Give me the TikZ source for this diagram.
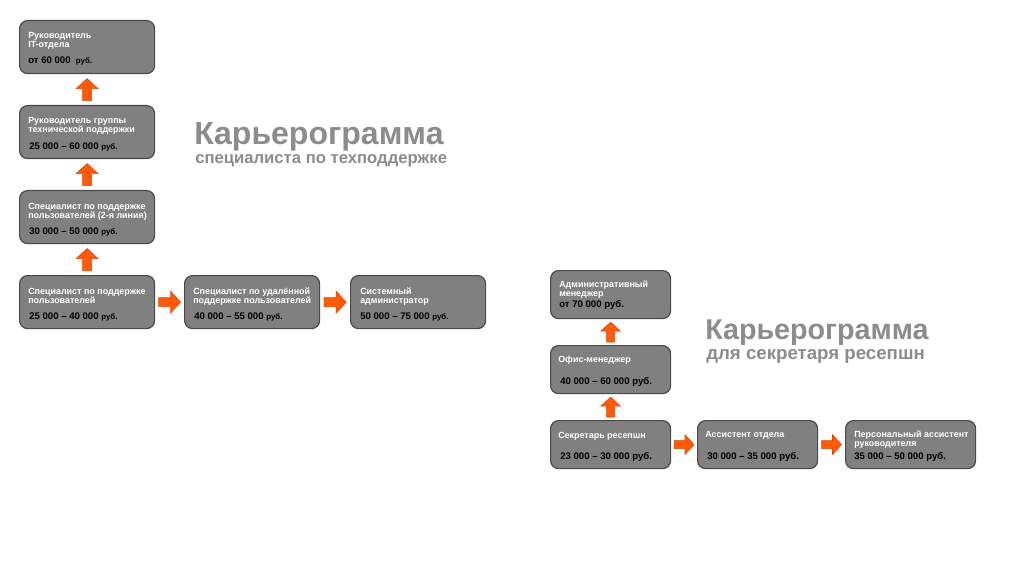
\documentclass[tikz,border=0pt]{standalone}
\usepackage{fontspec}
\setmainfont{Liberation Sans}
\usetikzlibrary{calc}
\definecolor{boxgray}{HTML}{808080}
\definecolor{boxline}{HTML}{4A4A4A}
\definecolor{arrfill}{HTML}{FF5A0A}
\definecolor{arrline}{HTML}{E04400}
\definecolor{titlegray}{HTML}{8C8C8C}
\tikzset{
  cbox/.style={draw=boxline, fill=boxgray, line width=0.9pt, rounded corners=6pt, anchor=north west, inner sep=0pt},
  lbox/.style={cbox, minimum width=101.25pt, minimum height=39.75pt},
  rbox/.style={cbox, minimum width=90pt, minimum height=36pt},
  jobtxt/.style={anchor=north west, inner sep=0pt, align=left, text=white, font=\bfseries\fontsize{6.7}{6.8}\selectfont},
  paytxt/.style={anchor=west, inner sep=0pt, text=black, font=\bfseries\fontsize{7.2}{9}\selectfont},
  arr/.style={fill=arrfill, draw=arrline, line width=0.4pt, line join=miter},
  uparr/.pic={\path[arr] (-4.5,11) -- (4.5,11) -- (4.5,-1) -- (11,-1) -- (0,-11) -- (-11,-1) -- (-4.5,-1) -- cycle;},
  rtarr/.pic={\path[arr] (-11,-4.5) -- (-11,4.5) -- (1,4.5) -- (1,11) -- (11,0) -- (1,-11) -- (1,-4.5) -- cycle;},
  bigtitle/.style={anchor=base west, inner sep=0pt, text=titlegray, font=\bfseries\fontsize{24}{28}\selectfont},
  subtitle/.style={anchor=base west, inner sep=0pt, text=titlegray, font=\bfseries\fontsize{12.5}{14}\selectfont}
}
\newcommand{\rub}{{\fontsize{5.9}{7}\selectfont руб.}}
\begin{document}
\begin{tikzpicture}[x=0.75pt, y=-0.75pt]
\useasboundingbox[fill=white] (0,0) rectangle (1024,574);

% left column
\node[lbox] (a) at (19,20) {};
\node[lbox] (b) at (19,105) {};
\node[lbox] (c) at (19,190) {};
\node[lbox] (d) at (19,275) {};
\node[lbox] (e) at (184,275) {};
\node[lbox] (f) at (350,275) {};

\node[jobtxt] (at) at ($(a.north west)+(9,12.5)$) {Руководитель\\IT-отдела};
\node[paytxt] (ap) at ($(a.north west)+(9,40.5)$) {от 60 000 \ \rub};
\node[jobtxt] (bt) at ($(b.north west)+(9,12.5)$) {Руководитель группы\\технической поддержки};
\node[paytxt] (bp) at ($(b.north west)+(10,41.5)$) {25 000 – 60 000 \rub};
\node[jobtxt] (ct) at ($(c.north west)+(9,12.5)$) {Специалист по поддержке\\пользователей (2-я линия)};
\node[paytxt] (cp) at ($(c.north west)+(10,41.5)$) {30 000 – 50 000 \rub};
\node[jobtxt] (dt) at ($(d.north west)+(9,12.5)$) {Специалист по поддержке\\пользователей};
\node[paytxt] (dp) at ($(d.north west)+(10,41.5)$) {25 000 – 40 000 \rub};
\node[jobtxt] (et) at ($(e.north west)+(9,12.5)$) {Специалист по удалённой\\поддержке пользователей};
\node[paytxt] (ep) at ($(e.north west)+(10,41.5)$) {40 000 – 55 000 \rub};
\node[jobtxt] (ft) at ($(f.north west)+(10,12.5)$) {Системный\\администратор};
\node[paytxt] (fp) at ($(f.north west)+(10,41.5)$) {50 000 – 75 000 \rub};

\pic at ($(a.south)!0.5!(b.north)$) {uparr};
\pic at ($(b.south)!0.5!(c.north)$) {uparr};
\pic at ($(c.south)!0.5!(d.north)$) {uparr};
\pic at ($(d.east)!0.5!(e.west)$) {rtarr};
\pic at ($(e.east)!0.5!(f.west)$) {rtarr};

\node[bigtitle] (t1) at (194,145) {Карьерограмма};
\node[subtitle] (s1) at (195,164) {специалиста по техподдержке};

% right section
\node[rbox] (g) at (550,270) {};
\node[rbox] (h) at (550,345) {};
\node[rbox] (i) at (550,420) {};
\node[rbox] (j) at (697,420) {};
\node[rbox, minimum width=97.5pt] (k) at (845,420) {};

\node[jobtxt] (gt) at ($(g.north west)+(9,10.5)$) {Административный\\менеджер};
\node[paytxt] (gp) at ($(g.north west)+(9,35)$) {от 70 000 руб.};
\node[jobtxt] (ht) at ($(h.north west)+(8,10.5)$) {Офис-менеджер};
\node[paytxt] (hp) at ($(h.north west)+(10,36.5)$) {40 000 – 60 000 руб.};
\node[jobtxt] (it) at ($(i.north west)+(8,11.5)$) {Секретарь ресепшн};
\node[paytxt] (ip) at ($(i.north west)+(10,36.5)$) {23 000 – 30 000 руб.};
\node[jobtxt] (jt) at ($(j.north west)+(8,11.5)$) {Ассистент отдела};
\node[paytxt] (jp) at ($(j.north west)+(10,36.5)$) {30 000 – 35 000 руб.};
\node[jobtxt] (kt) at ($(k.north west)+(9,11)$) {Персональный ассистент\\руководителя};
\node[paytxt] (kp) at ($(k.north west)+(9,36.5)$) {35 000 – 50 000 руб.};

\pic[scale=0.9] at ($(g.south)!0.5!(h.north)$) {uparr};
\pic[scale=0.9] at ($(h.south)!0.5!(i.north)$) {uparr};
\pic[scale=0.9] at ($(i.east)!0.5!(j.west)$) {rtarr};
\pic[scale=0.9] at ($(j.east)!0.5!(k.west)$) {rtarr};

\node[bigtitle, font=\bfseries\fontsize{21.5}{24}\selectfont] (t2) at (705,339) {Карьерограмма};
\node[subtitle, font=\bfseries\fontsize{14}{16}\selectfont] (s2) at (706,359) {для секретаря ресепшн};
\end{tikzpicture}
\end{document}
